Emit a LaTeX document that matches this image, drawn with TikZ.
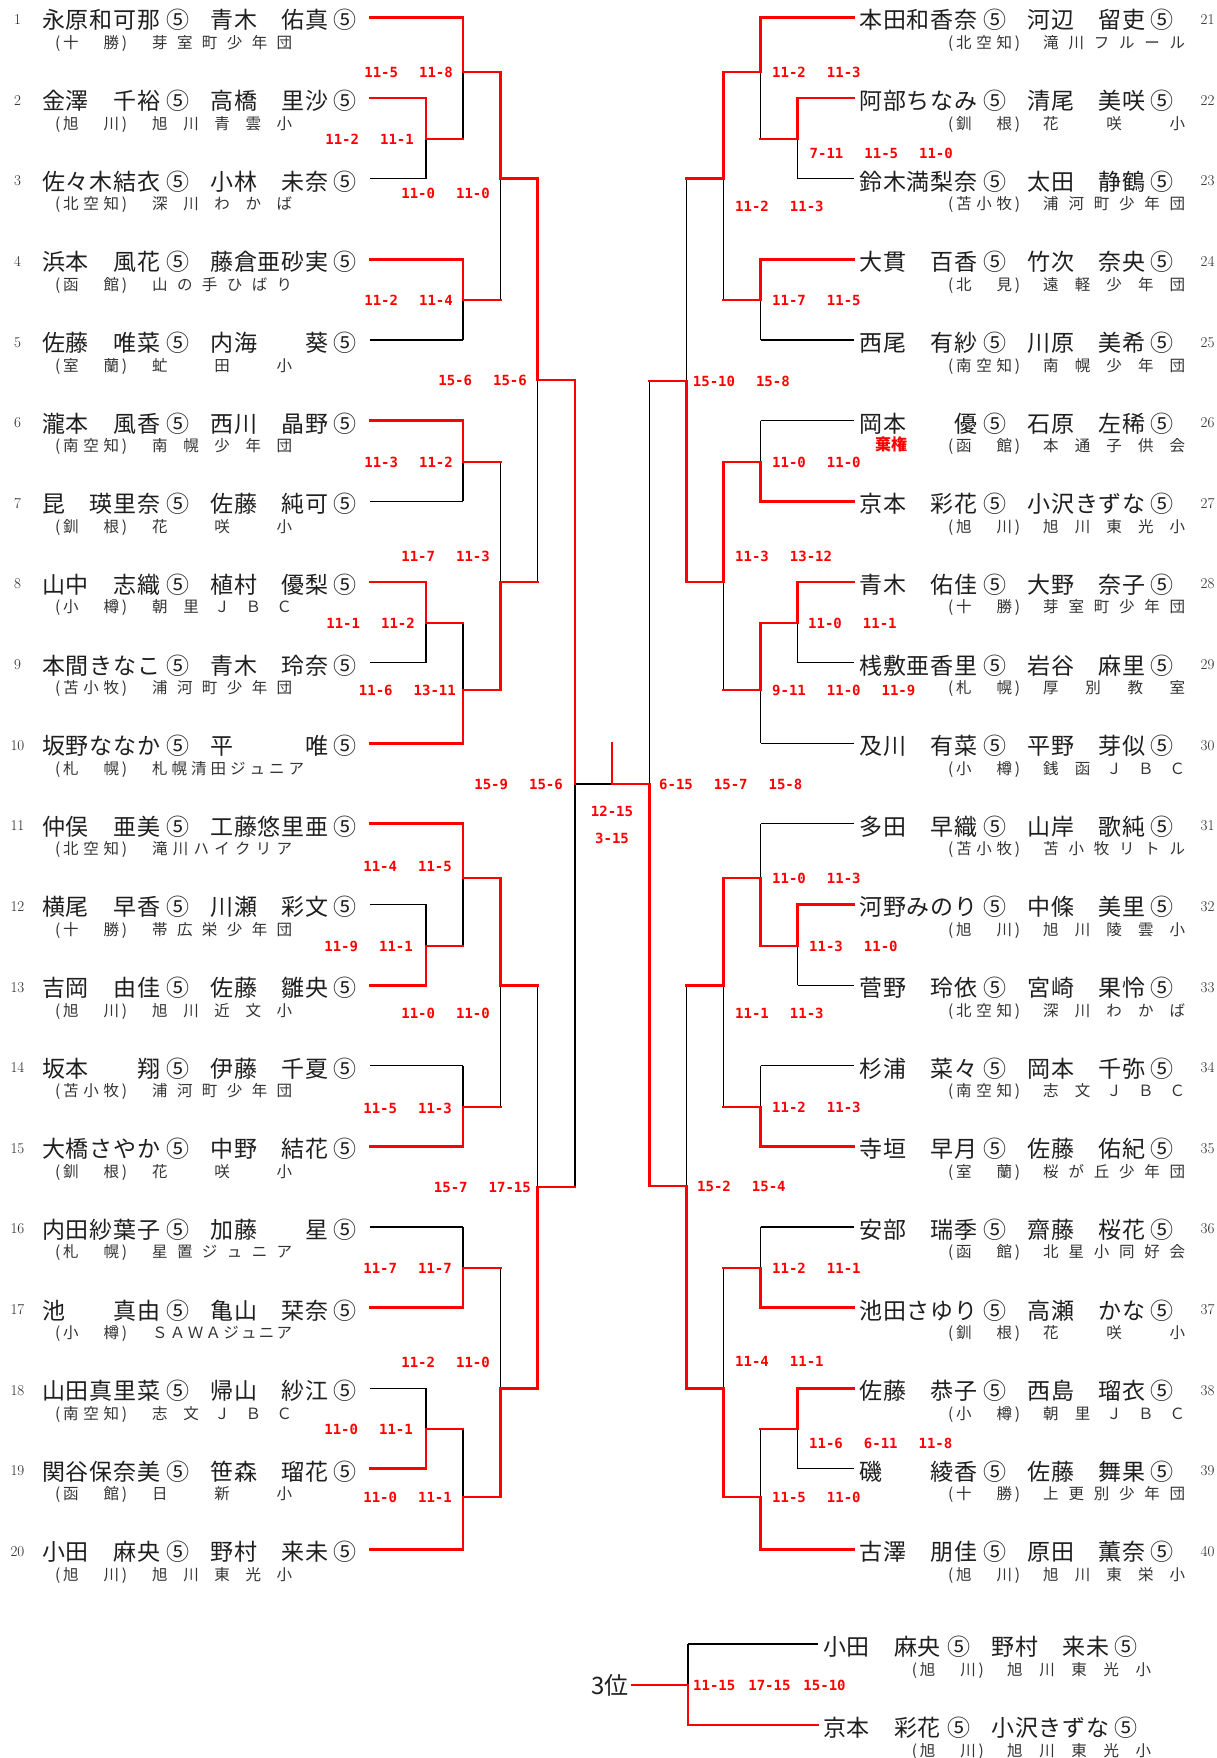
\documentclass[tikz,border=0pt]{standalone}
\usepackage{fontspec}
\newfontfamily\jp{Noto Sans CJK JP}
\newfontfamily\mono{DejaVu Sans Mono}
\pgfdeclarelayer{top}
\pgfsetlayers{main,top}
\def\nmc#1{\makebox[23.7pt][c]{#1}}
\def\nm#1#2#3#4#5{\nmc{#1}\nmc{#2}\nmc{#3}\nmc{#4}\nmc{#5}}
\newcommand\cir{\makebox[20pt][c]{⑤}}
\newcommand\pl[2]{\nm#1\hspace{7.8pt}\cir\hspace{22pt}\nm#2\hspace{6.5pt}\cir}
\def\gobone#1{}
\def\spr#1{\sprA#1\relax}
\def\sprA#1#2{#1\ifx\relax#2\expandafter\gobone\else\hfill\expandafter\sprA\fi#2}
\newcommand\rg[1]{\makebox[72pt][s]{(\hfill\makebox[56pt][s]{\spr{#1}}\hfill)}}
\newcommand\sg{\hspace{21pt}}
\tikzset{
  bk/.style={line width=1.1pt, black},
  rd/.style={line width=2.8pt, red, line cap=rect},
  nmtxt/.style={anchor=base west, inner sep=0pt, font=\jp\fontsize{23}{23}\selectfont, text=black!88},
  subtxt/.style={anchor=base west, inner sep=0pt, font=\jp\fontsize{15.5}{15.5}\selectfont, text=black!80},
  numtxt/.style={anchor=base, inner sep=0pt, font=\fontsize{15}{15}\selectfont, text=black!85},
  scl/.style={anchor=base east, inner sep=0pt, font=\mono\bfseries\fontsize{14}{14}\selectfont, text=red},
  scr/.style={anchor=base west, inner sep=0pt, font=\mono\bfseries\fontsize{14}{14}\selectfont, text=red},
  scc/.style={anchor=base, inner sep=0pt, font=\mono\bfseries\fontsize{14}{14}\selectfont, text=red},
}
\newcommand\Lrow[6]{%
  \pgfmathsetmacro\rowy{17.5+(#1-1)*80.63}%
  \node[numtxt] (num#1) at (17.5,\rowy+7) {#1};
  \node[nmtxt] (nm#1) at (41.7,\rowy+11.5) {\pl{#2}{#3}};
  \node[subtxt] (rg#1) at (55,\rowy+31) {\rg{#4}};
  \node[subtxt] (tm#1) at (152,\rowy+31) {\makebox[#6][s]{\spr{#5}}};
}
\newcommand\Rrow[6]{%
  \pgfmathsetmacro\rowy{17.5+(#1-21)*80.63}%
  \node[numtxt] (num#1) at (1207.5,\rowy+7) {#1};
  \node[nmtxt] (nm#1) at (859,\rowy+11.5) {\pl{#2}{#3}};
  \node[subtxt] (rg#1) at (948,\rowy+31) {\rg{#4}};
  \node[subtxt] (tm#1) at (1043,\rowy+31) {\makebox[#6][s]{\spr{#5}}};
}
\newcommand\Trow[6]{%
  \node[nmtxt] (#1n) at (822.6,#2+11.5) {\pl{#3}{#4}};
  \node[subtxt] (#1r) at (911.7,#2+31) {\rg{#5}};
  \node[subtxt] (#1t) at (1007,#2+31) {\makebox[144pt][s]{\spr{#6}}};
}
\newcommand\mt[6]{%
  \draw[bk] (#1,#2) -- (#1,#3);
  \begin{pgfonlayer}{top}
  \if#6t\draw[rd] (#1,#2) -- (#1,#4) -- (#5,#4);\else\draw[rd] (#1,#3) -- (#1,#4) -- (#5,#4);\fi
  \end{pgfonlayer}}
\newcommand\rl[3]{\begin{pgfonlayer}{top}\draw[rd] (#1,#3) -- (#2,#3);\end{pgfonlayer}}
\newcommand\bl[3]{\draw[bk] (#1,#3) -- (#2,#3);}
\newcommand\SL[4]{\node[scl] (#1) at (#2,#3+5.1) {#4};}
\newcommand\SR[4]{\node[scr] (#1) at (#2,#3+5.1) {#4};}
\begin{document}
\begin{tikzpicture}[x=1pt,y=-1pt]
\useasboundingbox (0,0) rectangle (1217,1758);
\fill[white] (0,0) rectangle (1217,1758);
% ---------- left players ----------
\Lrow{1}{永原和可那}{青木{}佑真}{十勝}{芽室町少年団}{140pt}
\Lrow{2}{金澤{}千裕}{高橋{}里沙}{旭川}{旭川青雲小}{140pt}
\Lrow{3}{佐々木結衣}{小林{}未奈}{北空知}{深川わかば}{140pt}
\Lrow{4}{浜本{}風花}{藤倉亜砂実}{函館}{山の手ひばり}{140pt}
\Lrow{5}{佐藤{}唯菜}{内海{}{}葵}{室蘭}{虻田小}{140pt}
\Lrow{6}{瀧本{}風香}{西川{}晶野}{南空知}{南幌少年団}{140pt}
\Lrow{7}{昆{}瑛里奈}{佐藤{}純可}{釧根}{花咲小}{140pt}
\Lrow{8}{山中{}志織}{植村{}優梨}{小樽}{朝里ＪＢＣ}{140pt}
\Lrow{9}{本間きなこ}{青木{}玲奈}{苫小牧}{浦河町少年団}{140pt}
\Lrow{10}{坂野ななか}{平{}{}{}唯}{札幌}{札幌清田ジュニア}{152pt}
\Lrow{11}{仲俣{}亜美}{工藤悠里亜}{北空知}{滝川ハイクリア}{140pt}
\Lrow{12}{横尾{}早香}{川瀬{}彩文}{十勝}{帯広栄少年団}{140pt}
\Lrow{13}{吉岡{}由佳}{佐藤{}雛央}{旭川}{旭川近文小}{140pt}
\Lrow{14}{坂本{}{}翔}{伊藤{}千夏}{苫小牧}{浦河町少年団}{140pt}
\Lrow{15}{大橋さやか}{中野{}結花}{釧根}{花咲小}{140pt}
\Lrow{16}{内田紗葉子}{加藤{}{}星}{札幌}{星置ジュニア}{140pt}
\Lrow{17}{池{}{}真由}{亀山{}栞奈}{小樽}{ＳＡＷＡジュニア}{140pt}
\Lrow{18}{山田真里菜}{帰山{}紗江}{南空知}{志文ＪＢＣ}{140pt}
\Lrow{19}{関谷保奈美}{笹森{}瑠花}{函館}{日新小}{140pt}
\Lrow{20}{小田{}麻央}{野村{}来未}{旭川}{旭川東光小}{140pt}
% ---------- right players ----------
\Rrow{21}{本田和香奈}{河辺{}留吏}{北空知}{滝川フルール}{142pt}
\Rrow{22}{阿部ちなみ}{清尾{}美咲}{釧根}{花咲小}{142pt}
\Rrow{23}{鈴木満梨奈}{太田{}静鶴}{苫小牧}{浦河町少年団}{142pt}
\Rrow{24}{大貫{}百香}{竹次{}奈央}{北見}{遠軽少年団}{142pt}
\Rrow{25}{西尾{}有紗}{川原{}美希}{南空知}{南幌少年団}{142pt}
\Rrow{26}{岡本{}{}優}{石原{}左稀}{函館}{本通子供会}{142pt}
\Rrow{27}{京本{}彩花}{小沢きずな}{旭川}{旭川東光小}{142pt}
\Rrow{28}{青木{}佑佳}{大野{}奈子}{十勝}{芽室町少年団}{142pt}
\Rrow{29}{桟敷亜香里}{岩谷{}麻里}{札幌}{厚別教室}{142pt}
\Rrow{30}{及川{}有菜}{平野{}芽似}{小樽}{銭函ＪＢＣ}{142pt}
\Rrow{31}{多田{}早織}{山岸{}歌純}{苫小牧}{苫小牧リトル}{142pt}
\Rrow{32}{河野みのり}{中條{}美里}{旭川}{旭川陵雲小}{142pt}
\Rrow{33}{菅野{}玲依}{宮崎{}果怜}{北空知}{深川わかば}{142pt}
\Rrow{34}{杉浦{}菜々}{岡本{}千弥}{南空知}{志文ＪＢＣ}{142pt}
\Rrow{35}{寺垣{}早月}{佐藤{}佑紀}{室蘭}{桜が丘少年団}{142pt}
\Rrow{36}{安部{}瑞季}{齋藤{}桜花}{函館}{北星小同好会}{142pt}
\Rrow{37}{池田さゆり}{高瀬{}かな}{釧根}{花咲小}{142pt}
\Rrow{38}{佐藤{}恭子}{西島{}瑠衣}{小樽}{朝里ＪＢＣ}{142pt}
\Rrow{39}{磯{}{}綾香}{佐藤{}舞果}{十勝}{上更別少年団}{142pt}
\Rrow{40}{古澤{}朋佳}{原田{}薫奈}{旭川}{旭川東栄小}{142pt}
\node[anchor=base west, inner sep=0pt, font=\jp\bfseries\fontsize{16}{16}\selectfont, text=red] (kiken) at (875,450) {棄権};
% ---------- left player lines ----------
\rl{370}{463}{17.5}
\rl{370}{426}{98.1}
\bl{370}{426}{178.8}
\rl{370}{463}{259.4}
\bl{370}{463}{340}
\rl{370}{463}{420.7}
\bl{370}{463}{501.3}
\rl{370}{426}{581.9}
\bl{370}{426}{662.5}
\rl{370}{463}{743.2}
\rl{370}{463}{823.8}
\bl{370}{426}{904.4}
\rl{370}{426}{985.1}
\bl{370}{463}{1065.7}
\rl{370}{463}{1146.3}
\bl{370}{463}{1227}
\rl{370}{463}{1307.6}
\bl{370}{426}{1388.2}
\rl{370}{426}{1468.8}
\rl{370}{463}{1549.5}
% ---------- left matches ----------
\mt{426}{98.1}{178.8}{139}{463}{t}
\mt{463}{17.5}{139}{72}{500.7}{t}
\mt{463}{259.4}{340}{300}{500.7}{t}
\mt{500.7}{72}{300}{178.8}{537.7}{t}
\mt{463}{420.7}{501.3}{462}{500.7}{t}
\mt{426}{581.9}{662.5}{623}{463}{t}
\mt{463}{623}{743.2}{690}{500.7}{b}
\mt{500.7}{462}{690}{581.9}{537.7}{b}
\mt{537.7}{178.8}{581.9}{380}{575}{t}
\mt{426}{904.4}{985.1}{946}{463}{b}
\mt{463}{823.8}{946}{878}{500.7}{t}
\mt{463}{1065.7}{1146.3}{1107}{500.7}{b}
\mt{500.7}{878}{1107}{985.1}{537.7}{t}
\mt{463}{1227}{1307.6}{1268}{500.7}{b}
\mt{426}{1388.2}{1468.8}{1429}{463}{b}
\mt{463}{1429}{1549.5}{1497}{500.7}{b}
\mt{500.7}{1268}{1497}{1388.2}{537.7}{b}
\mt{537.7}{985.1}{1388.2}{1187}{575}{b}
\mt{575}{380}{1187}{784}{575}{t}
\draw[bk] (575,784) -- (612,784);
% ---------- right player lines ----------
\rl{760.7}{854}{17.5}
\rl{797.7}{854}{98.1}
\bl{797.7}{854}{178.8}
\rl{760.7}{854}{259.4}
\bl{760.7}{854}{340}
\bl{760.7}{854}{420.7}
\rl{760.7}{854}{501.3}
\rl{797.7}{854}{581.9}
\bl{797.7}{854}{662.5}
\bl{760.7}{854}{743.2}
\bl{760.7}{854}{823.8}
\rl{797.7}{854}{904.4}
\bl{797.7}{854}{985.1}
\bl{760.7}{854}{1065.7}
\rl{760.7}{854}{1146.3}
\bl{760.7}{854}{1227}
\rl{760.7}{854}{1307.6}
\rl{797.7}{854}{1388.2}
\bl{797.7}{854}{1468.8}
\rl{760.7}{854}{1549.5}
% ---------- right matches ----------
\mt{797.7}{98.1}{178.8}{139}{760.7}{t}
\mt{760.7}{17.5}{139}{72}{723.5}{t}
\mt{760.7}{259.4}{340}{300}{723.5}{t}
\mt{723.5}{72}{300}{178.8}{686.4}{t}
\mt{760.7}{420.7}{501.3}{462}{723.5}{b}
\mt{797.7}{581.9}{662.5}{623}{760.7}{t}
\mt{760.7}{623}{743.2}{690}{723.5}{t}
\mt{723.5}{462}{690}{581.9}{686.4}{t}
\mt{686.4}{178.8}{581.9}{381}{649.3}{b}
\mt{797.7}{904.4}{985.1}{946}{760.7}{t}
\mt{760.7}{823.8}{946}{878}{723.5}{b}
\mt{760.7}{1065.7}{1146.3}{1107}{723.5}{b}
\mt{723.5}{878}{1107}{985.1}{686.4}{t}
\mt{760.7}{1227}{1307.6}{1268}{723.5}{b}
\mt{797.7}{1388.2}{1468.8}{1429}{760.7}{t}
\mt{760.7}{1429}{1549.5}{1497}{723.5}{b}
\mt{723.5}{1268}{1497}{1388.2}{686.4}{b}
\mt{686.4}{985.1}{1388.2}{1186}{649.3}{b}
\mt{649.3}{381}{1186}{784}{612}{b}
\begin{pgfonlayer}{top}\draw[rd] (612,743) -- (612,784);\end{pgfonlayer}
% ---------- scores left ----------
\SL{sl1}{453}{72}{11-5\sg 11-8}
\SL{sl2}{414}{139}{11-2\sg 11-1}
\SL{sl3}{490}{193}{11-0\sg 11-0}
\SL{sl4}{453}{300}{11-2\sg 11-4}
\SL{sl5}{527}{380}{15-6\sg 15-6}
\SL{sl6}{453}{462}{11-3\sg 11-2}
\SL{sl7}{490}{556}{11-7\sg 11-3}
\SL{sl8}{415}{623}{11-1\sg 11-2}
\SL{sl9}{456}{690}{11-6\sg 13-11}
\SL{sl10}{563}{784}{15-9\sg 15-6}
\SL{sl11}{452}{866}{11-4\sg 11-5}
\SL{sl12}{413}{946}{11-9\sg 11-1}
\SL{sl13}{490}{1013}{11-0\sg 11-0}
\SL{sl14}{452}{1108}{11-5\sg 11-3}
\SL{sl15}{531}{1187}{15-7\sg 17-15}
\SL{sl16}{452}{1268}{11-7\sg 11-7}
\SL{sl17}{490}{1362}{11-2\sg 11-0}
\SL{sl18}{413}{1429}{11-0\sg 11-1}
\SL{sl19}{452}{1497}{11-0\sg 11-1}
% ---------- scores right ----------
\SR{sr1}{772}{72}{11-2\sg 11-3}
\SR{sr2}{809.5}{153}{7-11\sg 11-5\sg 11-0}
\SR{sr3}{735}{206}{11-2\sg 11-3}
\SR{sr4}{772}{300}{11-7\sg 11-5}
\SR{sr5}{692.7}{381}{15-10\sg 15-8}
\SR{sr6}{772}{462}{11-0\sg 11-0}
\SR{sr7}{735}{556.6}{11-3\sg 13-12}
\SR{sr8}{808}{623}{11-0\sg 11-1}
\SR{sr9}{772}{690}{9-11\sg 11-0\sg 11-9}
\SR{sr10}{659}{784}{6-15\sg 15-7\sg 15-8}
\SR{sr11}{772}{878}{11-0\sg 11-3}
\SR{sr12}{809}{946}{11-3\sg 11-0}
\SR{sr13}{735}{1013}{11-1\sg 11-3}
\SR{sr14}{772}{1107}{11-2\sg 11-3}
\SR{sr15}{697}{1186}{15-2\sg 15-4}
\SR{sr16}{772}{1268}{11-2\sg 11-1}
\SR{sr17}{735}{1361.6}{11-4\sg 11-1}
\SR{sr18}{809}{1443}{11-6\sg 6-11\sg 11-8}
\SR{sr19}{772}{1497}{11-5\sg 11-0}
\node[scc] (fin1) at (612,816.8) {12-15};
\node[scc] (fin2) at (612,843.1) {3-15};
% ---------- third place ----------
\node[anchor=base east, inner sep=0pt, font=\jp\fontsize{24}{24}\selectfont, text=black!88] (third) at (629,1694) {3位};
\Trow{ta}{1644}{小田{}麻央}{野村{}来未}{旭川}{旭川東光小}
\Trow{tb}{1725}{京本{}彩花}{小沢きずな}{旭川}{旭川東光小}
\draw[bk] (688,1644) -- (688,1685);
\draw[bk] (688,1644) -- (818,1644);
\begin{pgfonlayer}{top}
\draw[rd] (632,1685) -- (688,1685);
\draw[rd] (688,1685) -- (688,1725) -- (818,1725);
\end{pgfonlayer}
\SR{t1}{693}{1685}{11-15\hspace{13pt}17-15\hspace{13pt}15-10}
\end{tikzpicture}
\end{document}
